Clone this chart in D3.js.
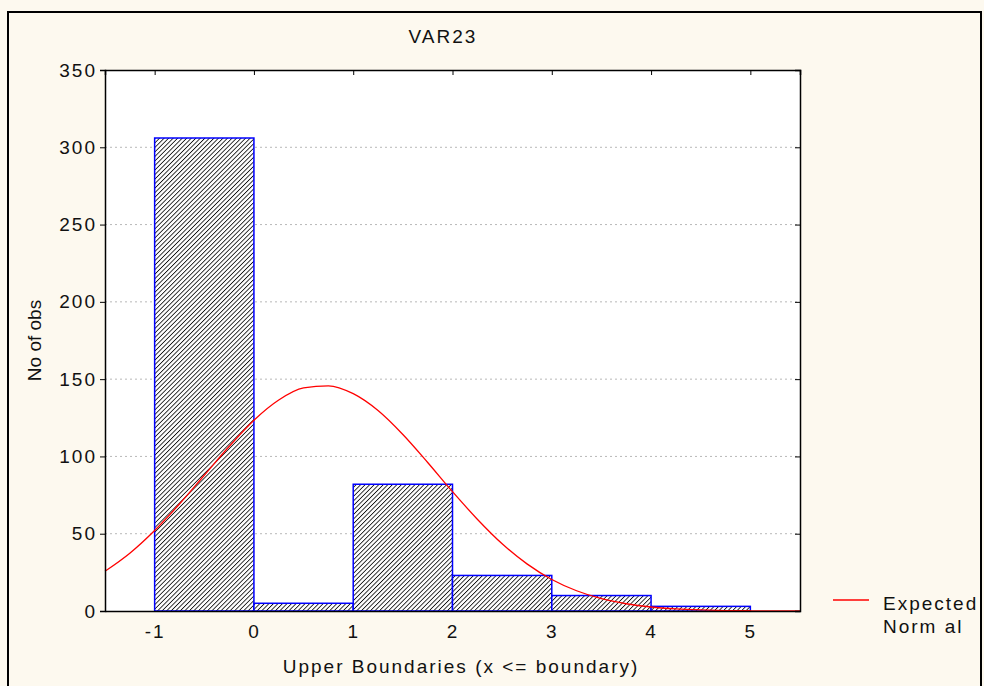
<!DOCTYPE html>
<html>
<head>
<meta charset="utf-8">
<script src="https://cdn.jsdelivr.net/npm/d3@7"></script>
<style>
  body { margin: 0; background: #fdf9ef; }
  text { font-family: "Liberation Sans", Arial, sans-serif; fill: #111; }
</style>
</head>
<body>
<div id="chart"></div>
<script>
// histogram bins (upper boundaries) and counts
var binStarts = [-1, 0, 1, 2, 3, 4]
var binCounts = [306, 5, 82, 23, 10, 3]

// expected normal curve
var curveX = [-1.5, -1.25, -1, -0.75, -0.5, -0.25, 0, 0.25, 0.5, 0.75, 1, 1.25, 1.5, 1.75, 2,
  2.25, 2.5, 2.75, 3, 3.25, 3.5, 3.75, 4, 4.25, 4.5, 4.75, 5, 5.25, 5.5]
var curveY = [25.7, 37.4, 52.1, 69.2, 87.8, 106.4, 123.4, 136.5, 144.3, 145.7, 140.6, 129.7, 114.2, 96.1, 77.2,
  59.4, 43.5, 30.5, 20.4, 13.1, 8.0, 4.7, 2.6, 1.4, 0.7, 0.3, 0.15, 0.05, 0.02]

var xTicks = [-1, 0, 1, 2, 3, 4, 5]
var yTicks = [0, 50, 100, 150, 200, 250, 300, 350]

var svgWidth = 984
var svgHeight = 686

var margin = { top: 70, right: 184, bottom: 75, left: 105 }
var width = svgWidth - margin.left - margin.right
var height = svgHeight - margin.top - margin.bottom

var svg = d3.select("#chart")
  .append("svg")
  .attr("width", svgWidth)
  .attr("height", svgHeight)

// outer frame
svg.append("rect")
  .attr("x", 8).attr("y", 12)
  .attr("width", 973).attr("height", 690)
  .attr("fill", "#fdf9ef")
  .attr("stroke", "#000")
  .attr("stroke-width", 2)

// hatch pattern
var defs = svg.append("defs")
var pat = defs.append("pattern")
  .attr("id", "hatch")
  .attr("patternUnits", "userSpaceOnUse")
  .attr("width", 3.2).attr("height", 3.2)
  .attr("patternTransform", "rotate(45)")
pat.append("rect").attr("width", 3.2).attr("height", 3.2).attr("fill", "#fff")
pat.append("line")
  .attr("x1", 0).attr("y1", 0).attr("x2", 0).attr("y2", 3.2)
  .attr("stroke", "#111").attr("stroke-width", 1.7)

var chartGroup = svg.append("g")
  .attr("transform", `translate(${margin.left}, ${margin.top})`)

var x = d3.scaleLinear().domain([-1.5, 5.5]).range([0, width])
var y = d3.scaleLinear().domain([0, 350]).range([height, 0])

// plot background
chartGroup.append("rect")
  .attr("width", width).attr("height", height)
  .attr("fill", "#fff")

// dotted gridlines
chartGroup.append("g")
  .selectAll("line")
  .data(yTicks.filter(d => d > 0 && d < 350))
  .enter()
  .append("line")
  .attr("x1", 0).attr("x2", width)
  .attr("y1", d => y(d)).attr("y2", d => y(d))
  .attr("stroke", "#b8b8b8")
  .attr("stroke-dasharray", "2,3")

// bars
chartGroup.append("g")
  .selectAll("rect")
  .data(binStarts)
  .enter()
  .append("rect")
  .attr("x", d => x(d))
  .attr("y", (d, i) => y(binCounts[i]))
  .attr("width", d => x(d + 1) - x(d))
  .attr("height", (d, i) => height - y(binCounts[i]))
  .attr("fill", "url(#hatch)")
  .attr("stroke", "#0000ff")
  .attr("stroke-width", 1.5)

// expected normal
var line = d3.line()
  .x((d, i) => x(curveX[i]))
  .y(d => y(d))
  .curve(d3.curveMonotoneX)

chartGroup.append("path")
  .datum(curveY)
  .attr("d", line)
  .attr("fill", "none")
  .attr("stroke", "#ff0000")
  .attr("stroke-width", 1.3)

// axes
var bottomAxis = d3.axisBottom(x).tickValues(xTicks).tickSize(0).tickPadding(14)
  .tickFormat(d => String(d))
var leftAxis = d3.axisLeft(y).tickValues(yTicks).tickSize(5).tickPadding(3)
  .tickFormat(d => String(d))
var topAxis = d3.axisTop(x).tickValues(xTicks).tickSize(-5).tickFormat("")
var rightAxis = d3.axisRight(y).tickValues(yTicks).tickSize(-5).tickFormat("")

var xAxis = chartGroup.append("g")
  .attr("transform", `translate(0, ${height})`)
  .call(bottomAxis)
var yAxis = chartGroup.append("g").call(leftAxis)
chartGroup.append("g").call(topAxis)
chartGroup.append("g").attr("transform", `translate(${width}, 0)`).call(rightAxis)

chartGroup.selectAll(".domain").attr("stroke", "#000").attr("stroke-width", 1.5)
chartGroup.selectAll(".tick line").attr("stroke", "#000")
chartGroup.selectAll(".tick text")
  .style("font-size", "19px")
  .style("letter-spacing", "2px")
  .attr("fill", "#111")

// title and labels
svg.append("text")
  .attr("x", 443).attr("y", 43)
  .attr("text-anchor", "middle")
  .style("font-size", "19px")
  .style("letter-spacing", "2px")
  .text("VAR23")

svg.append("text")
  .attr("transform", `translate(41, ${margin.top + height / 2}) rotate(-90)`)
  .attr("text-anchor", "middle")
  .style("font-size", "19px")
  .text("No of obs")

svg.append("text")
  .attr("x", 461).attr("y", 673)
  .attr("text-anchor", "middle")
  .style("font-size", "19px")
  .style("letter-spacing", "2px")
  .text("Upper Boundaries (x <= boundary)")

// legend
svg.append("line")
  .attr("x1", 833).attr("x2", 869)
  .attr("y1", 600).attr("y2", 600)
  .attr("stroke", "#ff0000")
  .attr("stroke-width", 1.3)

svg.append("text")
  .attr("x", 883).attr("y", 610)
  .style("font-size", "19px")
  .style("letter-spacing", "2px")
  .text("Expected")

svg.append("text")
  .attr("x", 883).attr("y", 633)
  .style("font-size", "19px")
  .style("letter-spacing", "2px")
  .text("Norm al")
</script>
</body>
</html>
